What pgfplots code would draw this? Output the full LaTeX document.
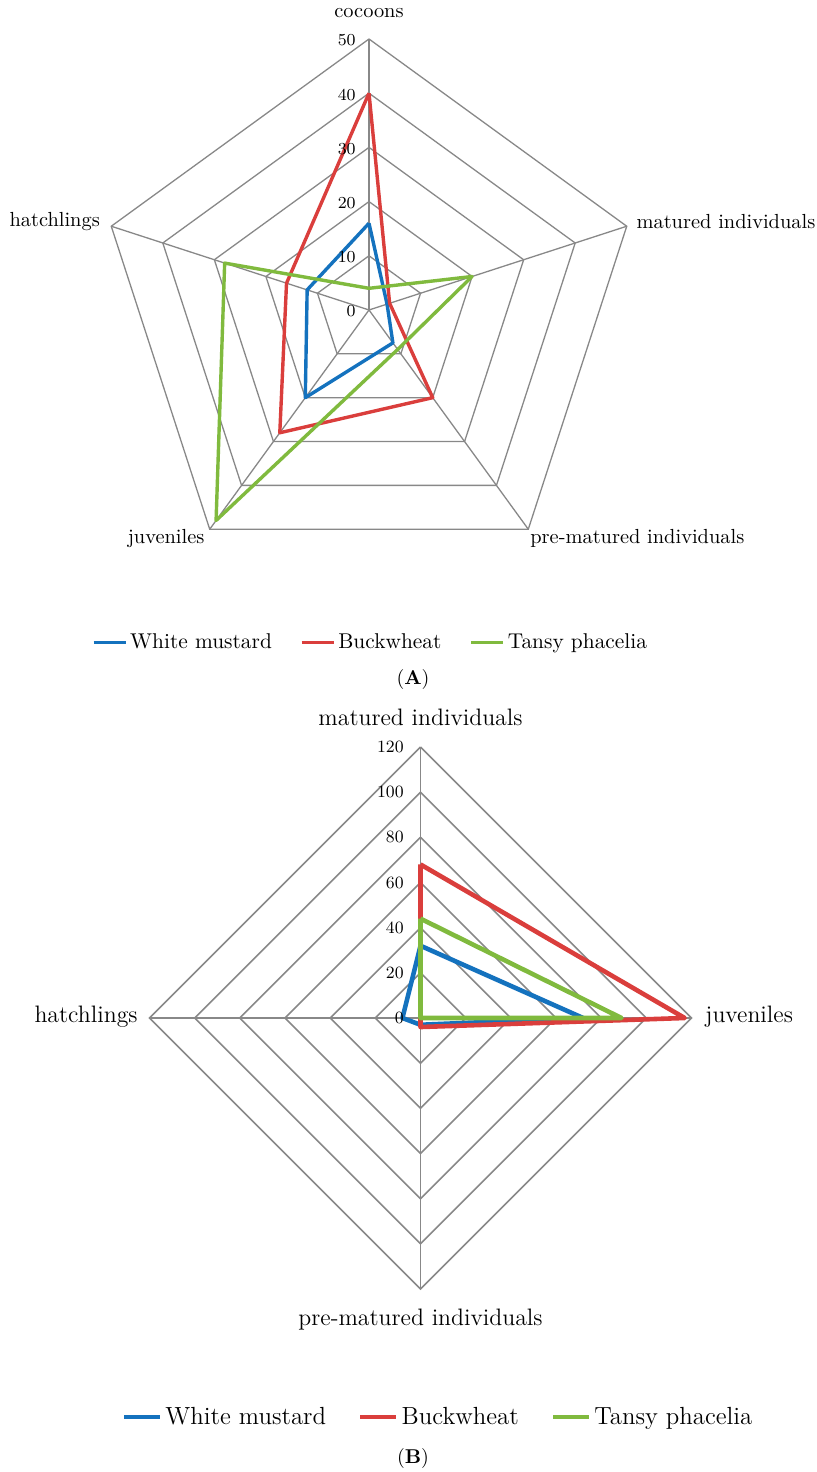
\documentclass[border=0pt]{standalone}
\usepackage{pgfplots}
\pgfplotsset{compat=1.18}

\definecolor{cMustard}{RGB}{20,114,190}
\definecolor{cBuck}{RGB}{218,62,60}
\definecolor{cPhac}{RGB}{128,186,62}
\definecolor{gridgray}{RGB}{136,136,136}

\begin{document}
\begin{tikzpicture}
\path[use as bounding box] (0,0) rectangle (408pt,736pt);

% ---------------- Panel A: five life stages ----------------
\begin{axis}[
  at={(184.5pt,581pt)}, anchor=origin,
  x=2.71pt, y=2.71pt,
  xmin=-60, xmax=60, ymin=-60, ymax=60,
  hide axis, clip=false,
  legend columns=3,
  legend style={draw=none, fill=none, at={(0.503,-0.0108)}, anchor=center,
    font=\fontsize{10.7}{12}\selectfont, nodes={inner sep=1.5pt},
    /tikz/every odd column/.append style={column sep=0pt},
    /tikz/every even column/.append style={column sep=12.5pt}},
  legend image code/.code={\draw[#1] (0pt,0pt) -- (16pt,0pt);},
]
% polygon grid and spokes
\pgfplotsinvokeforeach{10,20,30,40,50}{
  \addplot[gridgray, line width=0.65pt, data cs=polar, forget plot]
    coordinates {(90,#1) (18,#1) (-54,#1) (-126,#1) (162,#1) (90,#1)};
}
\pgfplotsinvokeforeach{90,18,-54,-126,162}{
  \addplot[gridgray, line width=0.65pt, data cs=polar, forget plot]
    coordinates {(#1,0) (#1,50)};
}
% angle, value: cocoons, matured, pre-matured, juveniles, hatchlings
\addplot[cMustard, line width=1.7pt, line join=round, data cs=polar]
  coordinates {(90,16) (18,3.5) (-54,7.5) (-126,20) (162,12) (90,16)};
\addlegendentry{White mustard}
\addplot[cBuck, line width=1.7pt, line join=round, data cs=polar]
  coordinates {(90,40) (18,4) (-54,20) (-126,28) (162,16) (90,40)};
\addlegendentry{Buckwheat}
\addplot[cPhac, line width=1.7pt, line join=round, data cs=polar]
  coordinates {(90,4) (18,20) (-54,9) (-126,48) (162,28) (90,4)};
\addlegendentry{Tansy phacelia}

% radial tick labels
\pgfplotsinvokeforeach{0,10,20,30,40,50}{
  \node[anchor=east, inner sep=0pt, font=\fontsize{8.4}{9}\selectfont]
    at (axis cs:-2.4,#1-0.28) {#1};
}
% category labels
\begin{scope}[every node/.style={inner sep=0pt, font=\fontsize{10.2}{12}\selectfont}]
\node[anchor=center] at (axis cs:0,54.8) {cocoons};
\node[anchor=west] at (axis cs:49.3,16.4) {matured individuals};
\node[anchor=west] at (axis cs:29.7,-42.1) {pre-matured individuals};
\node[anchor=east] at (axis cs:-30.3,-42.1) {juveniles};
\node[anchor=east] at (axis cs:-49.6,16.4) {hatchlings};
\end{scope}
\end{axis}

% ---------------- Panel B: four life stages ----------------
\begin{axis}[
  at={(210.25pt,227pt)}, anchor=origin,
  x=1.129pt, y=1.129pt,
  xmin=-140, xmax=140, ymin=-140, ymax=140,
  hide axis, clip=false,
  legend columns=3,
  legend style={draw=none, fill=none, at={(0.5286,-0.131)}, anchor=center,
    font=\fontsize{12.4}{14}\selectfont, nodes={inner sep=1.5pt},
    /tikz/every odd column/.append style={column sep=0pt},
    /tikz/every even column/.append style={column sep=14.5pt}},
  legend image code/.code={\draw[#1] (0pt,0pt) -- (18pt,0pt);},
]
\pgfplotsinvokeforeach{20,40,60,80,100,120}{
  \addplot[gridgray, line width=0.8pt, data cs=polar, forget plot]
    coordinates {(90,#1) (0,#1) (-90,#1) (180,#1) (90,#1)};
}
\pgfplotsinvokeforeach{90,0,-90,180}{
  \addplot[gridgray, line width=0.8pt, data cs=polar, forget plot]
    coordinates {(#1,0) (#1,120)};
}
% angle, value: matured, juveniles, pre-matured, hatchlings
\addplot[cMustard, line width=2.3pt, line join=round, data cs=polar]
  coordinates {(90,32) (0,72) (-90,3) (180,8) (90,32)};
\addlegendentry{White mustard}
\addplot[cBuck, line width=2.3pt, line join=round, data cs=polar]
  coordinates {(90,68) (0,117) (-90,4) (180,0) (90,68)};
\addlegendentry{Buckwheat}
\addplot[cPhac, line width=2.3pt, line join=round, data cs=polar]
  coordinates {(90,44) (0,89) (-90,0) (180,0) (90,44)};
\addlegendentry{Tansy phacelia}

\pgfplotsinvokeforeach{0,20,40,60,80,100,120}{
  \node[anchor=east, inner sep=0pt, font=\fontsize{8.6}{10}\selectfont]
    at (axis cs:-7.3,#1) {#1};
}
\begin{scope}[every node/.style={inner sep=0pt, font=\fontsize{11.9}{14}\selectfont}]
\node[anchor=center] at (axis cs:0,133.3) {matured individuals};
\node[anchor=west] at (axis cs:126,0.4) {juveniles};
\node[anchor=center] at (axis cs:0,-133.7) {pre-matured individuals};
\node[anchor=east] at (axis cs:-125.1,0.4) {hatchlings};
\end{scope}
\end{axis}

% panel captions
\node[font=\fontsize{10}{12}\selectfont] at (206.5pt,396pt) {(\textbf{A})};
\node[font=\fontsize{10}{12}\selectfont] at (206.5pt,7pt) {(\textbf{B})};
\end{tikzpicture}
\end{document}
